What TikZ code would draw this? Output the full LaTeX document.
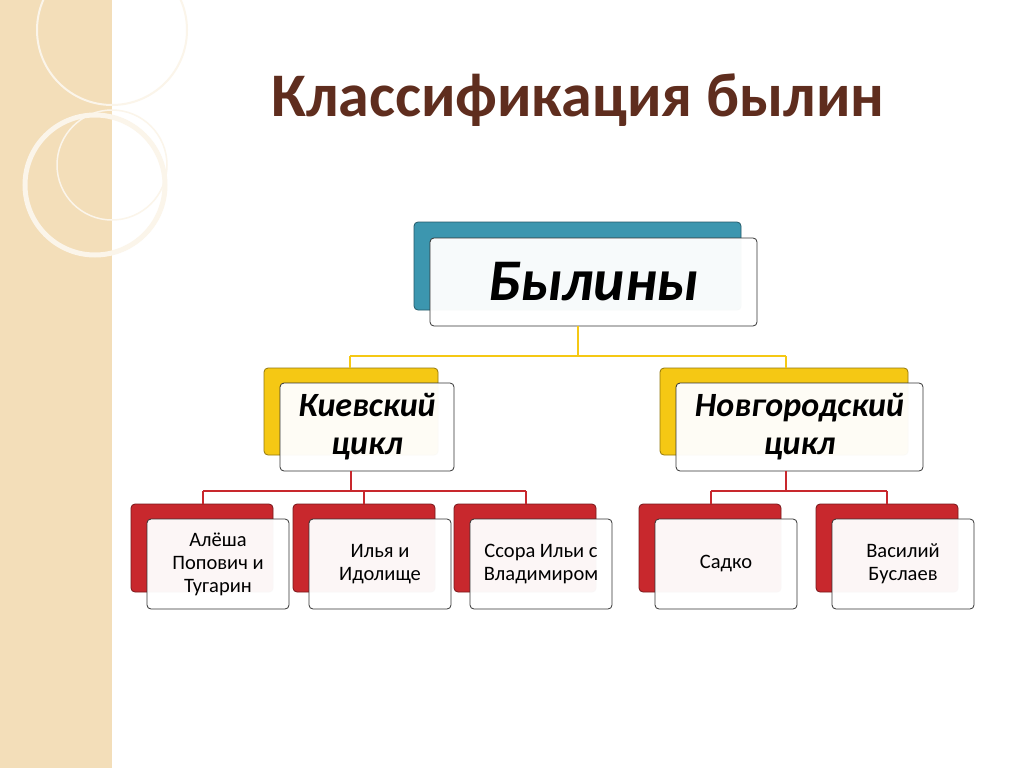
\documentclass[tikz,border=0pt]{standalone}
\usepackage{fontspec}
\setmainfont{Carlito}
\begin{document}
\begin{tikzpicture}[x=1pt,y=-1pt,
 back/.style={rounded corners=4pt,draw=#1!60!black,fill=#1,line width=0.8pt},
 front/.style={rounded corners=4pt,draw=black!80,fill=white,fill opacity=0.96,text opacity=1,line width=0.8pt,align=center},
 big/.style={font=\bfseries\itshape\fontsize{34}{38}\selectfont},
 small/.style={font=\fontsize{20.5}{23}\selectfont}]
\definecolor{tb}{RGB}{60,150,175}\definecolor{ty}{RGB}{245,200,20}\definecolor{tr}{RGB}{200,40,45}
\definecolor{strip}{RGB}{243,222,185}\definecolor{title}{RGB}{95,45,30}
\useasboundingbox (0,0) rectangle (1024,768);
\fill[white] (0,0) rectangle (1024,768);
\fill[strip] (0,0) rectangle (112,768);
\draw[white!70!strip,line width=2pt] (112,30) circle (75);
\draw[white!70!strip,line width=5pt] (95,185) circle (70);
\draw[white!70!strip,line width=1.5pt] (112,165) circle (55);
\node[text=title,font=\bfseries\fontsize{62}{68}\selectfont] (t) at (578,100) {Классификация былин};
% top
\draw[back=tb] (414,222) rectangle (741,310);
\node[front,minimum width=327pt,minimum height=88pt,font=\bfseries\itshape\fontsize{59}{64}\selectfont] (b) at (593.5,282) {Былины};
% level 2
\draw[back=ty] (264,368) rectangle (438,455);
\node[front,big,minimum width=174pt,minimum height=88pt] (k) at (367,427) {Киевский\\цикл};
\draw[back=ty] (660,368) rectangle (908,455);
\node[front,big,minimum width=247pt,minimum height=88pt] (n) at (799.5,427) {Новгородский\\цикл};
\draw[ty,line width=2.5pt] (578,326) -- (578,356) (350,356) -- (786,356) (350,356) -- (350,368) (786,356) -- (786,368);
% level 3
\foreach \x/\nm/\t in {131/a1/{Алёша\\Попович и\\Тугарин},293/a2/{Илья и\\Идолище},454/a3/{Ссора Ильи с\\Владимиром},639/a4/{Садко},816/a5/{Василий\\Буслаев}}{
 \draw[back=tr] (\x,504) rectangle (\x+142,592);
 \node[front,small,minimum width=142pt,minimum height=90pt,inner sep=1pt] (\nm) at (\x+87,564) {\t};
}
\draw[tr,line width=2.5pt] (351,471) -- (351,491) (203,491) -- (526,491) (203,491) -- (203,504) (364,491) -- (364,504) (526,491) -- (526,504);
\draw[tr,line width=2.5pt] (786,471) -- (786,491) (711,491) -- (887,491) (711,491) -- (711,504) (887,491) -- (887,504);
\end{tikzpicture}
\end{document}
